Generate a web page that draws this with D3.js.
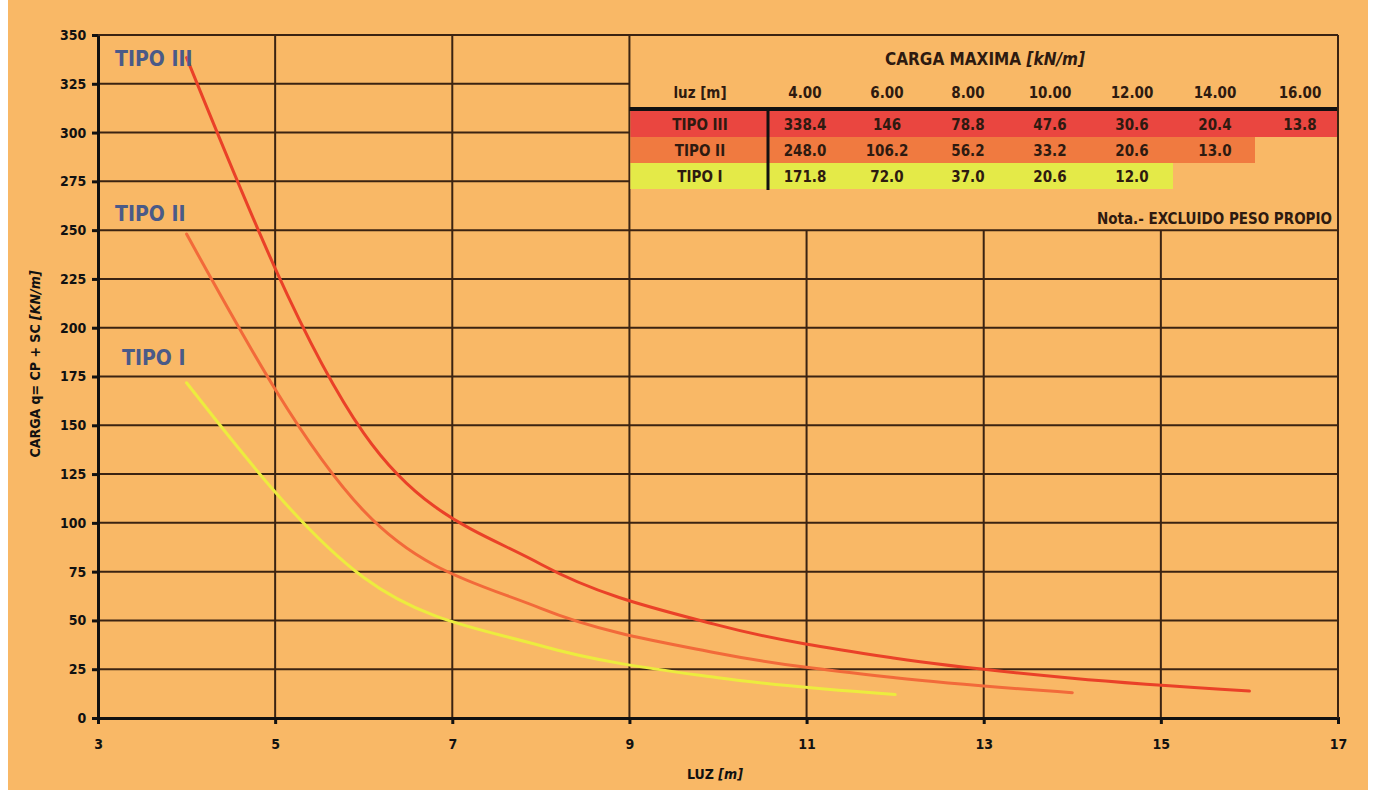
<!DOCTYPE html>
<html>
<head>
<meta charset="utf-8">
<script src="https://cdn.jsdelivr.net/npm/d3@7"></script>
<style>
  body { margin: 0; background: #fff; }
  text { font-family: "DejaVu Sans Condensed", "Liberation Sans Narrow", sans-serif; }
</style>
</head>
<body>
<div id="chart"></div>
<script>
const luz = [4, 6, 8, 10, 12, 14, 16];
const tipoIII = [338.4, 146, 78.8, 47.6, 30.6, 20.4, 13.8];
const tipoII = [248.0, 106.2, 56.2, 33.2, 20.6, 13.0];
const tipoI = [171.8, 72.0, 37.0, 20.6, 12.0];
const tiposNombres = ["TIPO III", "TIPO II", "TIPO I"];
const xTicks = [3, 5, 7, 9, 11, 13, 15, 17];
const yTicks = d3.range(0, 351, 25);
const luzLabels = ["4.00", "6.00", "8.00", "10.00", "12.00", "14.00", "16.00"];
const tablaIII = ["338.4", "146", "78.8", "47.6", "30.6", "20.4", "13.8"];
const tablaII = ["248.0", "106.2", "56.2", "33.2", "20.6", "13.0"];
const tablaI = ["171.8", "72.0", "37.0", "20.6", "12.0"];

const W = 1373, H = 797;
const svg = d3.select("#chart").append("svg")
    .attr("width", W)
    .attr("height", H);

svg.append("rect")
    .attr("x", 8).attr("y", 0)
    .attr("width", 1360).attr("height", 790)
    .attr("fill", "#f9b866");

const x = d3.scaleLinear().domain([3, 17]).range([98, 1338]);
const y = d3.scaleLinear().domain([0, 350]).range([718, 35]);

const gridColor = "#3b2312";
const grid = svg.append("g");

// horizontales
yTicks.forEach(v => {
    if (v == 0) return;
    const x2 = (v > 250 && v < 350) ? x(9) : x(17);
    grid.append("line")
        .attr("x1", x(3)).attr("x2", x2)
        .attr("y1", y(v)).attr("y2", y(v))
        .attr("stroke", gridColor).attr("stroke-width", 2);
});
// verticales
xTicks.forEach(v => {
    if (v == 3) return;
    const y2 = (v > 9 && v < 17) ? y(250) : y(350);
    grid.append("line")
        .attr("x1", x(v)).attr("x2", x(v))
        .attr("y1", y(0)).attr("y2", y2)
        .attr("stroke", gridColor).attr("stroke-width", 2);
});

// tabla
const tabla = svg.append("g");
const colX = [700, 805, 887, 968, 1050, 1132, 1215, 1300];
tabla.append("text")
    .attr("x", 985).attr("y", 65)
    .attr("text-anchor", "middle")
    .attr("font-size", 17).attr("font-weight", "bold")
    .attr("fill", "#2e1a10")
    .text("CARGA MAXIMA ")
    .append("tspan").attr("font-style", "italic").text("[kN/m]");

tabla.append("text")
    .attr("x", colX[0]).attr("y", 98)
    .attr("text-anchor", "middle")
    .attr("font-size", 15).attr("font-weight", "bold")
    .attr("fill", "#2e1a10")
    .text("luz [m]");
luzLabels.forEach((t, i) => {
    tabla.append("text")
        .attr("x", colX[i + 1]).attr("y", 98)
        .attr("text-anchor", "middle")
        .attr("font-size", 15).attr("font-weight", "bold")
        .attr("fill", "#2e1a10")
        .text(t);
});

const filas = [
    { nombre: "TIPO III", vals: tablaIII, color: "#ea4640", y: 111, end: 1338 },
    { nombre: "TIPO II", vals: tablaII, color: "#f07a40", y: 137, end: 1255 },
    { nombre: "TIPO I", vals: tablaI, color: "#e4ea48", y: 163, end: 1173 }
];
filas.forEach(f => {
    tabla.append("rect")
        .attr("x", x(9) + 1).attr("y", f.y)
        .attr("width", f.end - x(9) - 1).attr("height", 26)
        .attr("fill", f.color);
    tabla.append("text")
        .attr("x", colX[0]).attr("y", f.y + 19)
        .attr("text-anchor", "middle")
        .attr("font-size", 15).attr("font-weight", "bold")
        .attr("fill", "#2e1a10")
        .text(f.nombre);
    f.vals.forEach((t, i) => {
        tabla.append("text")
            .attr("x", colX[i + 1]).attr("y", f.y + 19)
            .attr("text-anchor", "middle")
            .attr("font-size", 15).attr("font-weight", "bold")
            .attr("fill", "#2e1a10")
            .text(t);
    });
});
tabla.append("line")
    .attr("x1", x(9)).attr("x2", x(17))
    .attr("y1", 109).attr("y2", 109)
    .attr("stroke", "#111").attr("stroke-width", 4);
tabla.append("line")
    .attr("x1", 768).attr("x2", 768)
    .attr("y1", 109).attr("y2", 190)
    .attr("stroke", "#111").attr("stroke-width", 3);
tabla.append("text")
    .attr("x", 1332).attr("y", 224)
    .attr("text-anchor", "end")
    .attr("font-size", 15).attr("font-weight", "bold")
    .attr("fill", "#2e1a10")
    .text("Nota.- EXCLUIDO PESO PROPIO");

// curvas
const series = [
    { vals: tipoIII, color: "#ea4128" },
    { vals: tipoII, color: "#f26a3a" },
    { vals: tipoI, color: "#ecec3e" }
];
const line = d3.line()
    .x(d => x(d[0]))
    .y(d => y(d[1]))
    .curve(d3.curveMonotoneX);
series.slice().reverse().forEach(s => {
    svg.append("path")
        .datum(s.vals.map((v, i) => [luz[i], v]))
        .attr("d", line)
        .attr("fill", "none")
        .attr("stroke", s.color)
        .attr("stroke-width", 3)
        .attr("stroke-linecap", "round");
});

// etiquetas de curvas
const etiquetas = [[115, 66], [115, 221], [122, 365]];
tiposNombres.forEach((t, i) => {
    svg.append("text")
        .attr("x", etiquetas[i][0]).attr("y", etiquetas[i][1])
        .attr("font-size", 21).attr("font-weight", "bold")
        .attr("fill", "#4a5a88")
        .text(t);
});

// ejes
const xAxis = svg.append("g")
    .attr("transform", "translate(0," + y(0) + ")")
    .call(d3.axisBottom(x).tickValues(xTicks).tickSize(6).tickFormat(d3.format("d")));
const yAxis = svg.append("g")
    .attr("transform", "translate(" + x(3) + ",0)")
    .call(d3.axisLeft(y).tickValues(yTicks).tickSize(6));
[xAxis, yAxis].forEach(a => {
    a.select(".domain").attr("stroke", "#111").attr("stroke-width", 3);
    a.selectAll(".tick line").attr("stroke", "#111").attr("stroke-width", 3);
    a.selectAll(".tick text")
        .attr("font-family", "Liberation Sans, Arial, sans-serif")
        .attr("font-weight", "bold")
        .attr("font-size", 14)
        .attr("fill", "#111");
});
xAxis.selectAll(".tick text").attr("dy", "1.6em");
yAxis.selectAll(".tick text").attr("dx", "-0.2em");

// borde derecho y superior
svg.append("line")
    .attr("x1", x(17)).attr("x2", x(17))
    .attr("y1", y(0)).attr("y2", y(350))
    .attr("stroke", gridColor).attr("stroke-width", 2);
svg.append("line")
    .attr("x1", x(3)).attr("x2", x(17))
    .attr("y1", y(350)).attr("y2", y(350))
    .attr("stroke", gridColor).attr("stroke-width", 2);

// titulos de ejes
svg.append("text")
    .attr("x", 715).attr("y", 779)
    .attr("text-anchor", "middle")
    .attr("font-family", "Liberation Sans, Arial, sans-serif")
    .attr("font-size", 14).attr("font-weight", "bold")
    .attr("fill", "#111")
    .text("LUZ ")
    .append("tspan").attr("font-style", "italic").text("[m]");
svg.append("text")
    .attr("transform", "translate(40,364) rotate(-90)")
    .attr("text-anchor", "middle")
    .attr("font-family", "Liberation Sans, Arial, sans-serif")
    .attr("font-size", 14).attr("font-weight", "bold")
    .attr("fill", "#111")
    .text("CARGA q= CP + SC  ")
    .append("tspan").attr("font-style", "italic").text("[KN/m]");
</script>
</body>
</html>
